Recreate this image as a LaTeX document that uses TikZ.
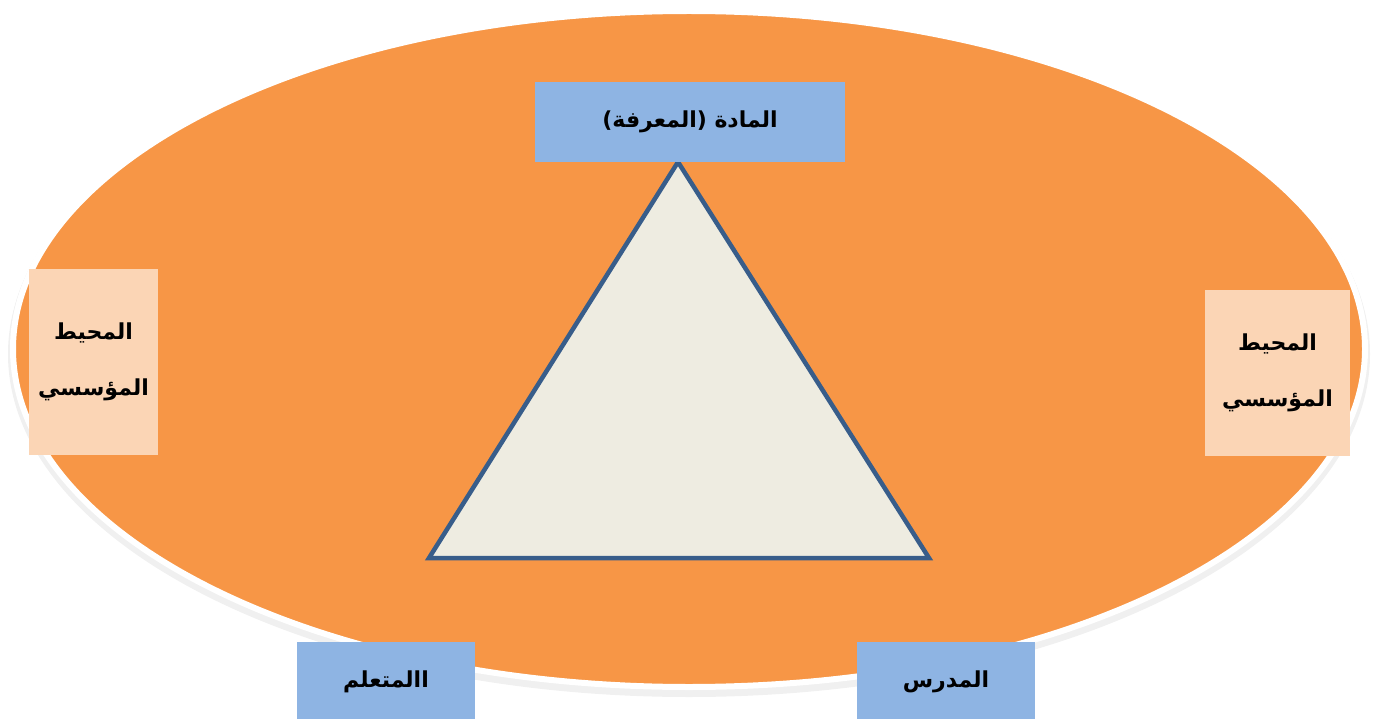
\documentclass[tikz,border=0pt]{standalone}
\usepackage{fontspec}
\newfontfamily\arabicfont[Script=Arabic]{DejaVu Sans}
\TeXXeTstate=1
\definecolor{orangefill}{HTML}{F79646}
\definecolor{bluebox}{HTML}{8EB4E3}
\definecolor{peachbox}{HTML}{FBD5B5}
\definecolor{trifill}{HTML}{EEECE1}
\definecolor{triline}{HTML}{385D8A}
\tikzset{
  lbl/.style={font=\arabicfont\bfseries\fontsize{22}{30}\selectfont, text=black, align=center},
  bluebx/.style={fill=bluebox, draw=none, lbl},
  peachbx/.style={fill=peachbox, draw=none, lbl}
}
\begin{document}
\begin{tikzpicture}[x=1pt,y=-1pt]
\useasboundingbox (0,0) rectangle (1378,719);
% shadow
\fill[black!12] (689,352) ellipse [x radius=680, y radius=342];
\fill[black!6] (689,354) ellipse [x radius=681, y radius=343];
% ellipse
\filldraw[fill=orangefill, draw=white, line width=6pt] (689,349) ellipse [x radius=676, y radius=338];
% triangle
\coordinate (apex) at (678,162);
\coordinate (bl) at (429,558);
\coordinate (br) at (929,558);
\filldraw[fill=trifill, draw=triline, line width=4.5pt, line join=miter] (apex) -- (br) -- (bl) -- cycle;
% boxes
\node[bluebx, minimum width=310pt, minimum height=80pt] (top) at (690,122) {\beginR المادة (المعرفة)\endR};
\node[peachbx, minimum width=129pt, minimum height=186pt] (left) at (93.5,362) {\beginR المحيط\endR\\[26pt]\beginR المؤسسي\endR};
\node[peachbx, minimum width=145pt, minimum height=166pt] (right) at (1277.5,373) {\beginR المحيط\endR\\[26pt]\beginR المؤسسي\endR};
\node[bluebx, minimum width=178pt, minimum height=80pt] (learner) at (386,682) {\beginR االمتعلم\endR};
\node[bluebx, minimum width=178pt, minimum height=80pt] (teacher) at (946,682) {\beginR المدرس\endR};
\end{tikzpicture}
\end{document}
